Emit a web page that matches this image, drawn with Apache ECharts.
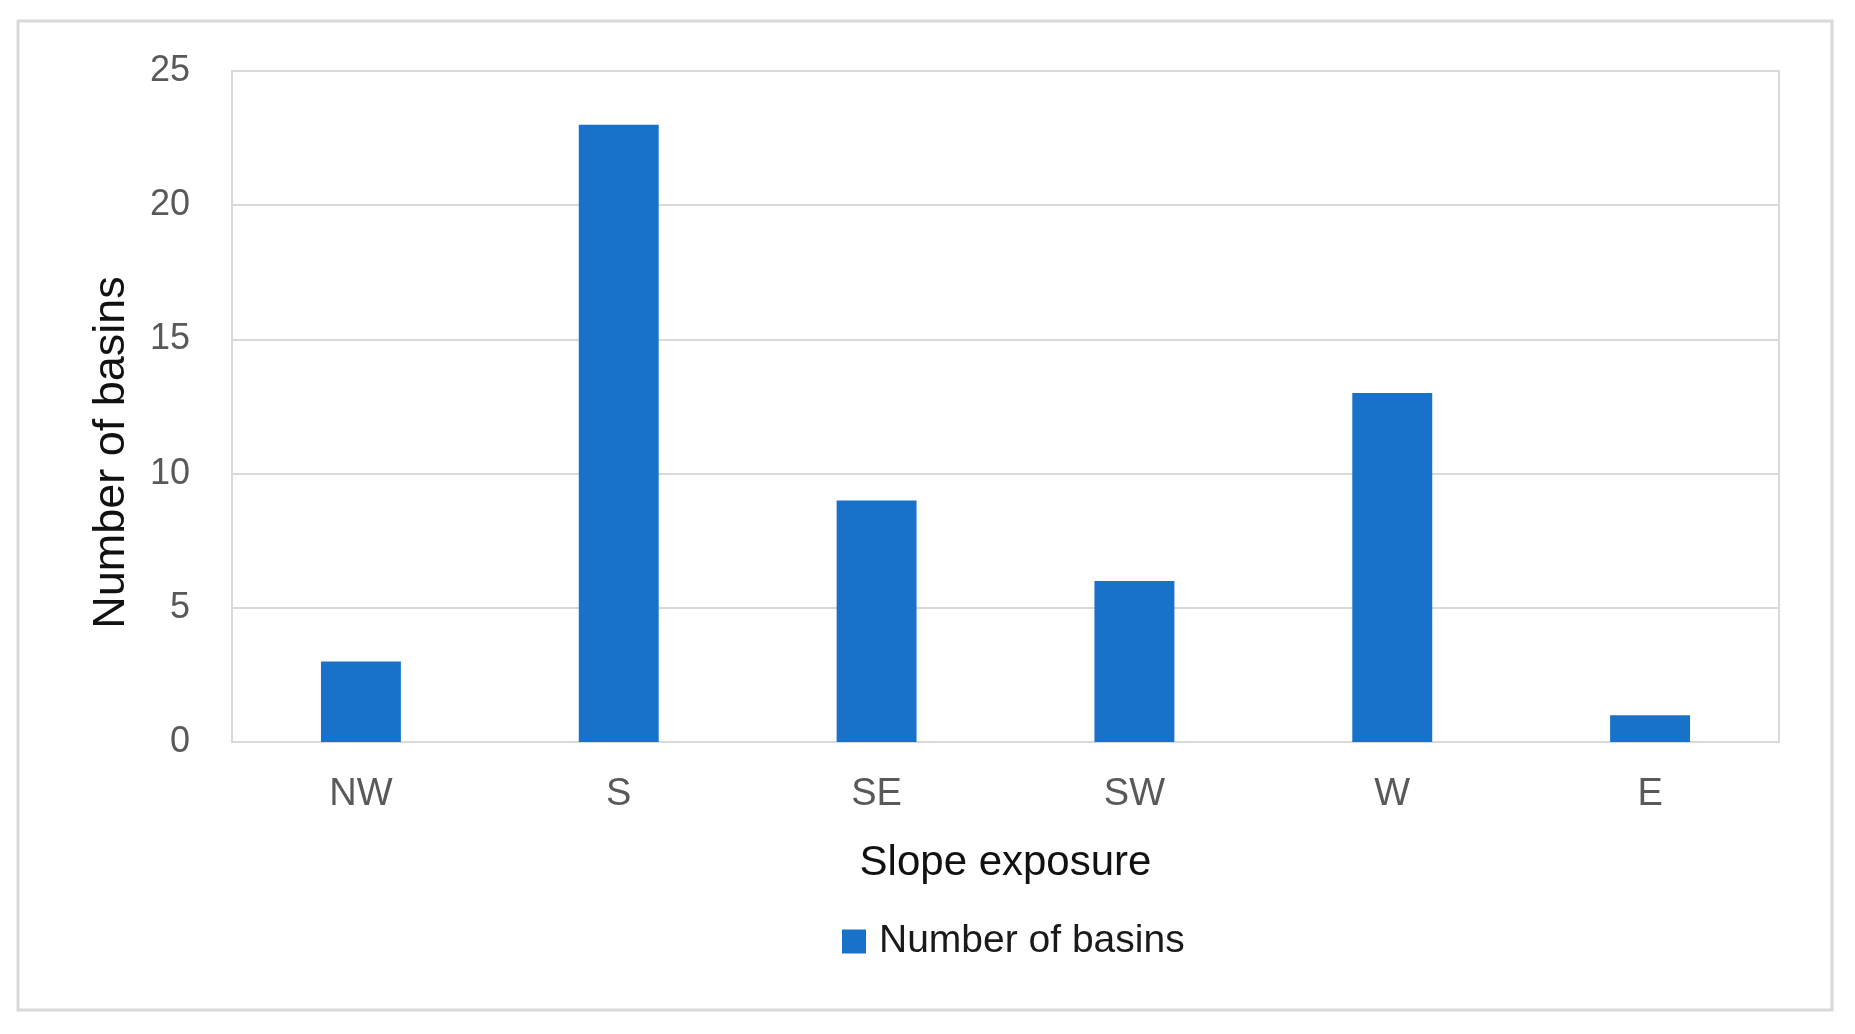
<!DOCTYPE html>
<html>
<head>
<meta charset="utf-8">
<script src="https://cdn.jsdelivr.net/npm/echarts@6/dist/echarts.min.js"></script>
<style>html,body{margin:0;padding:0;background:#fff;}#c{width:1855px;height:1034px;}</style>
</head>
<body>
<div id="c"></div>
<script>
const categories = ['NW', 'S', 'SE', 'SW', 'W', 'E'];
const basinCounts = [3, 23, 9, 6, 13, 1];
const yTicks = [0, 5, 10, 15, 20, 25];
const seriesName = 'Number of basins';
const xTitle = 'Slope exposure';
const yTitle = 'Number of basins';

const FONT = '"Liberation Sans", Arial, sans-serif';
const chart = echarts.init(document.getElementById('c'), null, {renderer: 'canvas'});
chart.setOption({
  backgroundColor: '#ffffff',
  animation: false,
  graphic: [{
    type: 'rect', shape: {x: 18, y: 21, width: 1814, height: 989},
    style: {fill: 'none', stroke: '#d9d9d9', lineWidth: 3}, z: -1
  }],
  grid: {left: 232, right: 76, top: 71, bottom: 292, show: true, borderColor: '#d9d9d9', borderWidth: 2, containLabel: false},
  legend: {
    data: [seriesName], left: 837, top: 917, icon: 'rect', itemWidth: 24, itemHeight: 24, itemGap: 10,
    textStyle: {fontFamily: FONT, fontSize: 39, color: '#1a1a1a', padding: [0, 0, 0, 8]}
  },
  xAxis: {
    type: 'category', data: categories,
    name: xTitle, nameLocation: 'middle', nameGap: 100,
    nameTextStyle: {fontFamily: FONT, fontSize: 42, color: '#111'},
    axisLine: {show: true, lineStyle: {color: '#d9d9d9', width: 2}},
    axisTick: {show: false},
    axisLabel: {fontFamily: FONT, fontSize: 38, color: '#595959', margin: 34}
  },
  yAxis: {
    type: 'value', min: 0, max: 25, interval: 5,
    name: yTitle, nameLocation: 'middle', nameGap: 98, nameRotate: 90,
    nameTextStyle: {fontFamily: FONT, fontSize: 45, color: '#111', padding: [0, 92, 0, 0]},
    axisLine: {show: false}, axisTick: {show: false},
    splitLine: {lineStyle: {color: '#d9d9d9', width: 2}},
    axisLabel: {fontFamily: FONT, fontSize: 36, color: '#595959', margin: 42,
      formatter: v => yTicks.includes(v) ? String(v) : ''}
  },
  series: [{
    name: seriesName, type: 'bar', data: basinCounts, barCategoryGap: '69%',
    itemStyle: {color: '#1872c9'}
  }]
});
</script>
</body>
</html>
